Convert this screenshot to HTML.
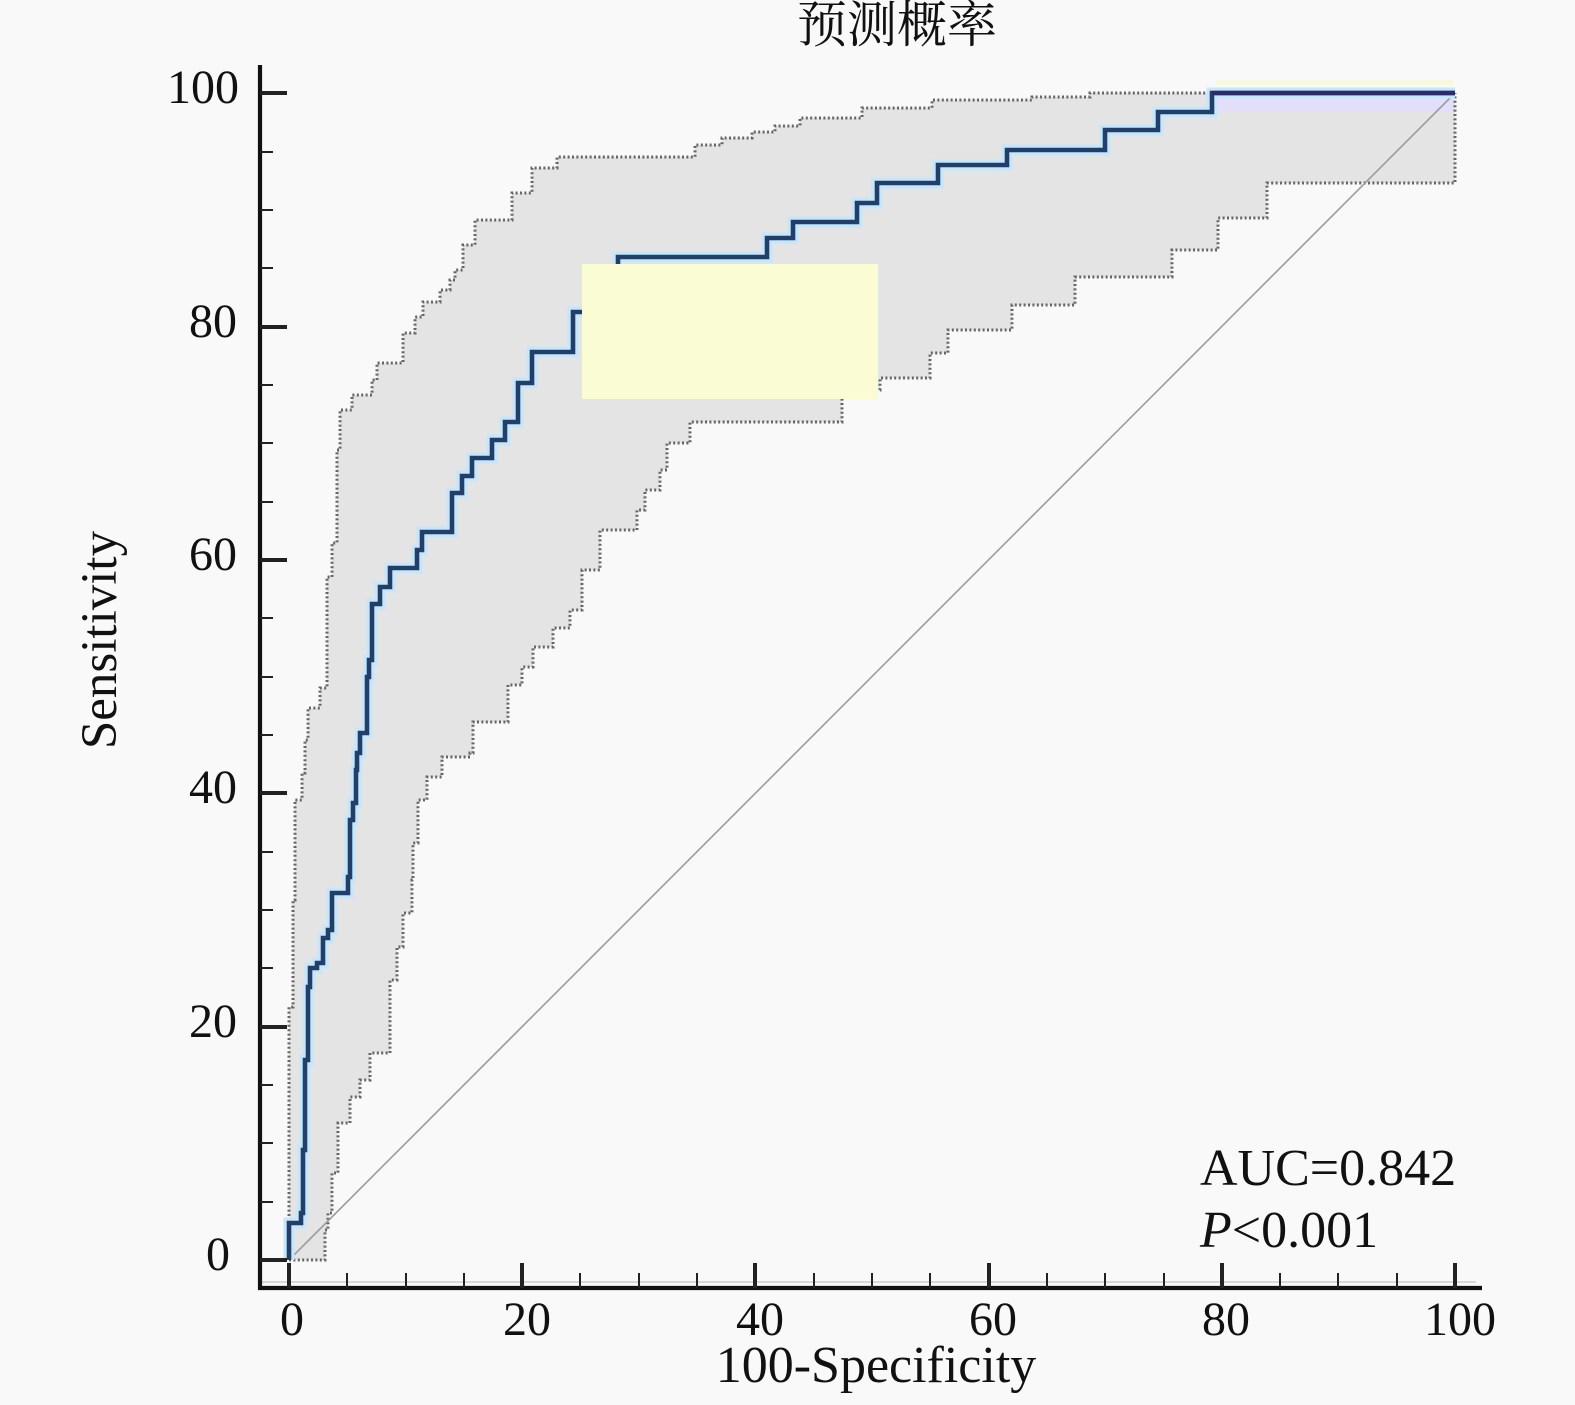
<!DOCTYPE html>
<html>
<head>
<meta charset="utf-8">
<style>
html,body{margin:0;padding:0;background:#f9f9f9;}
svg{display:block;}
text{font-family:"Liberation Serif","Noto Serif CJK SC",serif;fill:#111;}
</style>
</head>
<body>
<svg width="1575" height="1405" viewBox="0 0 1575 1405" xmlns="http://www.w3.org/2000/svg">
<rect x="0" y="0" width="1575" height="1405" fill="#f9f9f9"/>

<!-- CI band fill -->
<path fill="#e4e4e4" d="M289,1260 V1007 H293 V900 H295 V800 H302 V773 H305 V740 H308 V708 H320 V688 H327 V577 H332 V543 H337 V450 H340 V410 H352 V395 H372 V380 H377 V363 H403 V333 H415 V317 H423 V302 H440 V290 H450 V280 H455 V270 H463 V245 H475 V220 H512 V193 H532 V168 H557 V157 H695 V145 H722 V138 H752 V132 H775 V126 H800 V118 H862 V108 H932 V100 H1032 V97 H1090 V93 H1455
V183 H1267 V218 H1218 V250 H1172 V277 H1075 V305 H1012 V330 H948 V353 H930 V378 H880 V390 H842 V422 H690 V443 H667 V470 H660 V490 H645 V510 H637 V530 H600 V570 H582 V610 H570 V628 H553 V647 H533 V667 H522 V685 H508 V722 H473 V753 H470 V757 H442 V777 H427 V800 H418 V843 H413 V880 H412 V913 H403 V947 H397 V980 H390 V1053 H370 V1080 H360 V1097 H350 V1123 H338 V1173 H332 V1213 H328 V1230 H325 V1260 H289 Z"/>

<!-- lavender strip top right -->
<rect x="1212" y="95" width="241" height="17" fill="#e3dffa"/>
<rect x="1216" y="80" width="237" height="5" fill="#f7f9dc"/>

<!-- upper CI dotted -->
<path fill="none" stroke="#666" stroke-width="3" stroke-dasharray="2,2.4" d="M289,1260 V1007 H293 V900 H295 V800 H302 V773 H305 V740 H308 V708 H320 V688 H327 V577 H332 V543 H337 V450 H340 V410 H352 V395 H372 V380 H377 V363 H403 V333 H415 V317 H423 V302 H440 V290 H450 V280 H455 V270 H463 V245 H475 V220 H512 V193 H532 V168 H557 V157 H695 V145 H722 V138 H752 V132 H775 V126 H800 V118 H862 V108 H932 V100 H1032 V97 H1090 V93 H1455"/>

<!-- lower CI dotted -->
<path fill="none" stroke="#666" stroke-width="3" stroke-dasharray="2,2.4" d="M289,1260 H325 V1230 H328 V1213 H332 V1173 H338 V1123 H350 V1097 H360 V1080 H370 V1053 H390 V980 H397 V947 H403 V913 H412 V880 H413 V843 H418 V800 H427 V777 H442 V757 H470 V753 H473 V722 H508 V685 H522 V667 H533 V647 H553 V628 H570 V610 H582 V570 H600 V530 H637 V510 H645 V490 H660 V470 H667 V443 H690 V422 H842 V390 H880 V378 H930 V353 H948 V330 H1012 V305 H1075 V277 H1172 V250 H1218 V218 H1267 V183 H1455 V93"/>

<!-- diagonal reference -->
<line x1="289" y1="1260" x2="1455" y2="93" stroke="#9c9c9c" stroke-width="1.6"/>

<!-- main ROC halo -->
<path fill="none" stroke="#c6e6fb" stroke-width="11" stroke-linejoin="miter" d="M289,1260 V1223 H301 V1213 H303 V1150 H305 V1060 H308 V987 H310 V968 H317 V963 H323 V938 H328 V930 H332 V893 H348 V877 H350 V820 H353 V803 H356 V770 H357 V753 H360 V733 H367 V677 H369 V660 H372 V604 H380 V587 H390 V568 H417 V550 H422 V532 H452 V493 H462 V476 H472 V458 H492 V440 H505 V422 H518 V383 H532 V352 H573 V312 H600 V290 H618 V257 H767 V238 H793 V222 H857 V203 H877 V183 H938 V165 H1007 V150 H1105 V130 H1158 V112 H1212 V93 H1455"/>
<!-- main ROC -->
<path fill="none" stroke="#213f69" stroke-width="4.6" stroke-linejoin="miter" d="M289,1260 V1223 H301 V1213 H303 V1150 H305 V1060 H308 V987 H310 V968 H317 V963 H323 V938 H328 V930 H332 V893 H348 V877 H350 V820 H353 V803 H356 V770 H357 V753 H360 V733 H367 V677 H369 V660 H372 V604 H380 V587 H390 V568 H417 V550 H422 V532 H452 V493 H462 V476 H472 V458 H492 V440 H505 V422 H518 V383 H532 V352 H573 V312 H600 V290 H618 V257 H767 V238 H793 V222 H857 V203 H877 V183 H938 V165 H1007 V150 H1105 V130 H1158 V112 H1212 V93 H1455"/>
<line x1="1212" y1="93" x2="1455" y2="93" stroke="#2c2c6c" stroke-width="4.6"/>

<!-- yellow box -->
<rect x="582" y="264" width="296" height="135" fill="#fafcd4"/>

<!-- axes -->
<line x1="262" y1="1282" x2="1476" y2="1282" stroke="#c4c4c4" stroke-width="1.2"/>
<line x1="260" y1="65" x2="260" y2="1290" stroke="#111" stroke-width="4.2"/>
<line x1="258" y1="1288" x2="1482" y2="1288" stroke="#111" stroke-width="4.2"/>

<!-- y ticks -->
<g stroke="#222">
<line x1="260" y1="93" x2="287" y2="93" stroke-width="4"/>
<line x1="260" y1="327" x2="287" y2="327" stroke-width="4"/>
<line x1="260" y1="560" x2="287" y2="560" stroke-width="4"/>
<line x1="260" y1="793" x2="287" y2="793" stroke-width="4"/>
<line x1="260" y1="1027" x2="287" y2="1027" stroke-width="4"/>
<line x1="260" y1="1260" x2="287" y2="1260" stroke-width="4"/>
<g stroke-width="2">
<line x1="260" y1="152" x2="273" y2="152"/>
<line x1="260" y1="210" x2="273" y2="210"/>
<line x1="260" y1="268" x2="273" y2="268"/>
<line x1="260" y1="385" x2="273" y2="385"/>
<line x1="260" y1="443" x2="273" y2="443"/>
<line x1="260" y1="502" x2="273" y2="502"/>
<line x1="260" y1="618" x2="273" y2="618"/>
<line x1="260" y1="677" x2="273" y2="677"/>
<line x1="260" y1="735" x2="273" y2="735"/>
<line x1="260" y1="852" x2="273" y2="852"/>
<line x1="260" y1="910" x2="273" y2="910"/>
<line x1="260" y1="968" x2="273" y2="968"/>
<line x1="260" y1="1085" x2="273" y2="1085"/>
<line x1="260" y1="1143" x2="273" y2="1143"/>
<line x1="260" y1="1202" x2="273" y2="1202"/>
</g>
</g>

<!-- x ticks -->
<g stroke="#222">
<line x1="289" y1="1263" x2="289" y2="1288" stroke-width="4"/>
<line x1="522" y1="1263" x2="522" y2="1288" stroke-width="4"/>
<line x1="755" y1="1263" x2="755" y2="1288" stroke-width="4"/>
<line x1="989" y1="1263" x2="989" y2="1288" stroke-width="4"/>
<line x1="1222" y1="1263" x2="1222" y2="1288" stroke-width="4"/>
<line x1="1455" y1="1263" x2="1455" y2="1288" stroke-width="4"/>
<g stroke-width="2">
<line x1="347" y1="1273" x2="347" y2="1288"/>
<line x1="406" y1="1273" x2="406" y2="1288"/>
<line x1="464" y1="1273" x2="464" y2="1288"/>
<line x1="580" y1="1273" x2="580" y2="1288"/>
<line x1="639" y1="1273" x2="639" y2="1288"/>
<line x1="697" y1="1273" x2="697" y2="1288"/>
<line x1="814" y1="1273" x2="814" y2="1288"/>
<line x1="872" y1="1273" x2="872" y2="1288"/>
<line x1="930" y1="1273" x2="930" y2="1288"/>
<line x1="1047" y1="1273" x2="1047" y2="1288"/>
<line x1="1105" y1="1273" x2="1105" y2="1288"/>
<line x1="1164" y1="1273" x2="1164" y2="1288"/>
<line x1="1280" y1="1273" x2="1280" y2="1288"/>
<line x1="1338" y1="1273" x2="1338" y2="1288"/>
<line x1="1397" y1="1273" x2="1397" y2="1288"/>
</g>
</g>

<!-- y tick labels -->
<g font-size="48" text-anchor="end">
<text x="239" y="103">100</text>
<text x="237" y="337">80</text>
<text x="237" y="570">60</text>
<text x="237" y="803">40</text>
<text x="237" y="1037">20</text>
<text x="230" y="1270">0</text>
</g>

<!-- x tick labels -->
<g font-size="48" text-anchor="middle">
<text x="292" y="1335">0</text>
<text x="527" y="1335">20</text>
<text x="760" y="1335">40</text>
<text x="993" y="1335">60</text>
<text x="1226" y="1335">80</text>
<text x="1460" y="1335">100</text>
</g>

<!-- axis titles -->
<text x="876" y="1382" font-size="52" text-anchor="middle">100-Specificity</text>
<text transform="translate(116,640) rotate(-90)" font-size="51" text-anchor="middle">Sensitivity</text>
<text x="897" y="42" font-size="50" text-anchor="middle" style="font-family:'Noto Serif CJK SC','Noto Sans CJK SC',serif;">预测概率</text>

<!-- annotation -->
<text x="1200" y="1185" font-size="52">AUC=0.842</text>
<text x="1200" y="1247" font-size="52"><tspan font-style="italic">P</tspan>&lt;0.001</text>
</svg>
</body>
</html>
